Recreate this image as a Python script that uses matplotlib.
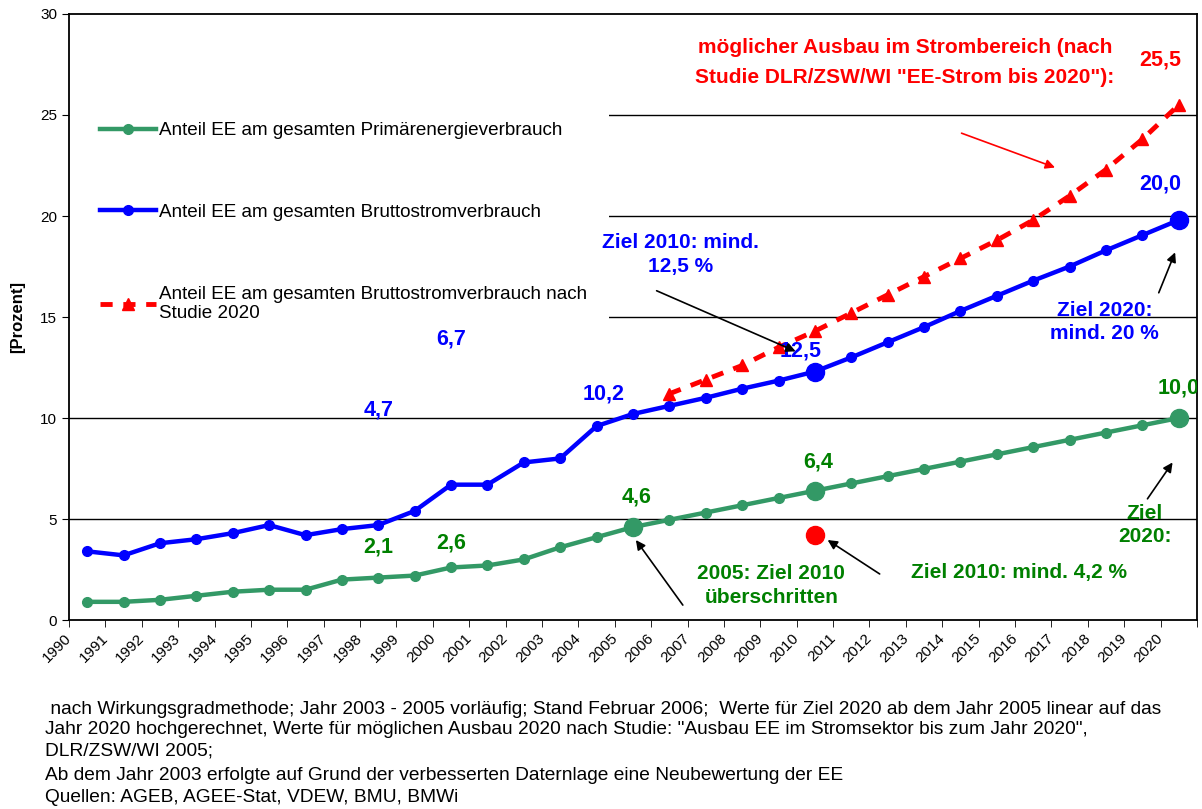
import matplotlib
matplotlib.use("Agg")
import matplotlib.pyplot as plt
import matplotlib.transforms as mtransforms
import numpy as np
from matplotlib.patches import Rectangle

plt.rcParams["font.family"] = ["Liberation Sans", "DejaVu Sans"]

# ---- Daten ----
YEARS = np.arange(1990, 2021)
PRIMAER = [0.9, 0.9, 1.0, 1.2, 1.4, 1.5, 1.5, 2.0, 2.1, 2.2, 2.6, 2.7, 3.0, 3.6, 4.1, 4.6,
           4.96, 5.32, 5.68, 6.04, 6.4, 6.76, 7.12, 7.48, 7.84, 8.2, 8.56, 8.92, 9.28, 9.64, 10.0]
STROM = [3.4, 3.2, 3.8, 4.0, 4.3, 4.7, 4.2, 4.5, 4.7, 5.4, 6.7, 6.7, 7.8, 8.0, 9.6, 10.2,
         10.6, 11.0, 11.45, 11.85, 12.3, 13.0, 13.75, 14.5, 15.3, 16.05, 16.8, 17.5, 18.3, 19.05, 19.8]
STUDIE_YEARS = np.arange(2006, 2021)
STUDIE = [11.2, 11.9, 12.6, 13.5, 14.3, 15.2, 16.1, 17.0, 17.9, 18.8, 19.8, 21.0, 22.3, 23.8, 25.5]
PRIMAER_BIG = [2005, 2010, 2020]
STROM_BIG = [2010, 2020]
ZIEL_2010_PRIMAER = 4.2

LABELS = [
    "Anteil EE am gesamten Primärenergieverbrauch",
    "Anteil EE am gesamten Bruttostromverbrauch",
    "Anteil EE am gesamten Bruttostromverbrauch nach\nStudie 2020",
]
FOOTNOTE = [
    " nach Wirkungsgradmethode; Jahr 2003 - 2005 vorläufig; Stand Februar 2006;  Werte für Ziel 2020 ab dem Jahr 2005 linear auf das",
    "Jahr 2020 hochgerechnet, Werte für möglichen Ausbau 2020 nach Studie: \"Ausbau EE im Stromsektor bis zum Jahr 2020\",",
    "DLR/ZSW/WI 2005;",
    "Ab dem Jahr 2003 erfolgte auf Grund der verbesserten Daternlage eine Neubewertung der EE",
    "Quellen: AGEB, AGEE-Stat, VDEW, BMU, BMWi",
]

GREEN = "#339966"
GREEN_TXT = "#008000"
BLUE = "#0000FF"
RED = "#FF0000"

fig = plt.figure(figsize=(12.02, 8.09), dpi=100)
ax = fig.add_axes([0.0574, 0.2336, 0.9384, 0.7491])

for y in [5, 10, 15, 20, 25]:
    ax.axhline(y, color="black", lw=1.0, zorder=1)
# weisser Legendenhintergrund
ax.add_patch(Rectangle((0.0, 0.47), 0.479, 0.40, transform=ax.transAxes,
                       facecolor="white", edgecolor="none", zorder=1.5))

prim = dict(zip(YEARS, PRIMAER))
strom = dict(zip(YEARS, STROM))

l1, = ax.plot(YEARS, PRIMAER, color=GREEN, lw=3.2, marker="o", ms=7, zorder=3, label=LABELS[0])
ax.plot(PRIMAER_BIG, [prim[y] for y in PRIMAER_BIG], "o", color=GREEN, ms=13, zorder=4)
l2, = ax.plot(YEARS, STROM, color=BLUE, lw=3.2, marker="o", ms=7, zorder=3, label=LABELS[1])
ax.plot(STROM_BIG, [strom[y] for y in STROM_BIG], "o", color=BLUE, ms=13, zorder=4)
l3, = ax.plot(STUDIE_YEARS, STUDIE, color=RED, lw=3.5, ls=(0, (2.5, 2.2)), marker="^", ms=8.5,
              zorder=3, label=LABELS[2])
ax.plot([2010], [ZIEL_2010_PRIMAER], "o", color=RED, ms=13, zorder=4)

ax.set_xlim(1989.5, 2020.5)
ax.set_ylim(0, 30)
ax.set_yticks([0, 5, 10, 15, 20, 25, 30])
ax.tick_params(axis="y", direction="out", length=5, labelsize=11)
ax.set_xticks(YEARS)
ax.set_xticklabels([str(y) for y in YEARS], rotation=45, ha="right", fontsize=11)
ax.tick_params(axis="x", length=0, pad=8)
ax.set_xticks(np.arange(1989.5, 2021, 1), minor=True)
ax.tick_params(axis="x", which="minor", direction="out", length=5)
shift = mtransforms.ScaledTranslation(-13 / 100, 0, fig.dpi_scale_trans)
for t in ax.get_xticklabels():
    t.set_transform(t.get_transform() + shift)
for s in ax.spines.values():
    s.set_linewidth(1.3)
ax.set_ylabel("[Prozent]", fontsize=12, fontweight="bold", labelpad=11)

leg = ax.legend(handles=[l1, l2, l3], loc="upper left", bbox_to_anchor=(0.012, 0.85),
                frameon=False, fontsize=13.6, handlelength=3.0, handletextpad=0.16,
                labelspacing=3.42, numpoints=1)

# ---- Beschriftungen ----
def lab(x, y, s, color, size=15, **kw):
    ax.text(x, y, s, color=color, fontsize=size, fontweight="bold",
            ha="center", va="center", zorder=5, **kw)

lab(1998.0, 10.4, "4,7", BLUE, 15.5)
lab(2000.0, 13.9, "6,7", BLUE, 15.5)
lab(2004.2, 11.2, "10,2", BLUE, 15.5)
lab(2009.6, 13.3, "12,5", BLUE, 15.5)
lab(2019.5, 21.6, "20,0", BLUE, 15.5)
lab(1998.0, 3.6, "2,1", GREEN_TXT, 15.5)
lab(2000.0, 3.8, "2,6", GREEN_TXT, 15.5)
lab(2005.1, 6.1, "4,6", GREEN_TXT, 15.5)
lab(2010.1, 7.8, "6,4", GREEN_TXT, 15.5)
lab(2020.0, 11.5, "10,0", GREEN_TXT, 15.5, clip_on=True)
lab(2019.5, 27.7, "25,5", RED, 15.5)

lab(2012.47, 27.6, "möglicher Ausbau im Strombereich (nach\nStudie DLR/ZSW/WI \"EE-Strom bis 2020\"):", RED,
    linespacing=1.7)
lab(2006.3, 18.1, "Ziel 2010: mind.\n12,5 %", BLUE, linespacing=1.3)
lab(2017.96, 14.75, "Ziel 2020:\nmind. 20 %", BLUE, linespacing=1.3)
lab(2019.06, 4.7, "Ziel\n2020:", GREEN_TXT, linespacing=1.3)
lab(2015.6, 2.33, "Ziel 2010: mind. 4,2 %", GREEN_TXT)
lab(2008.8, 1.7, "2005: Ziel 2010\nüberschritten", GREEN_TXT, linespacing=1.3)

def arrow(start, end, color="black"):
    ax.annotate("", xy=end, xytext=start, zorder=5,
                arrowprops=dict(arrowstyle="-|>", color=color, lw=1.2, mutation_scale=14,
                                shrinkA=0, shrinkB=0))

arrow((2014.03, 24.1), (2016.6, 22.4), RED)
arrow((2005.65, 16.3), (2009.47, 13.3))
arrow((2019.45, 16.2), (2019.9, 18.2))
arrow((2019.14, 6.0), (2019.83, 7.8))
arrow((2011.78, 2.28), (2010.35, 3.96))
arrow((2006.37, 0.74), (2005.08, 3.96))

for i, line in enumerate(FOOTNOTE):
    fig.text(45 / 1202, 1 - (709 + [0, 21, 42, 66, 88][i]) / 809, line,
             fontsize=13.8, va="center", ha="left")

fig.savefig("out.png", dpi=100)
